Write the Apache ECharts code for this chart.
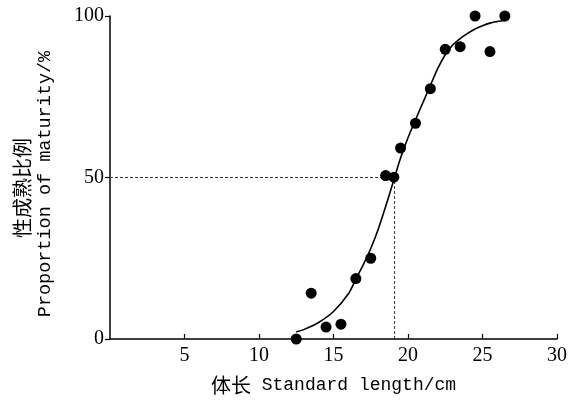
<!DOCTYPE html>
<html><head><meta charset="utf-8">
<script src="https://cdn.jsdelivr.net/npm/echarts@6/dist/echarts.min.js"></script>
<style>html,body{margin:0;padding:0;background:#fff}#c{width:574px;height:402px}</style>
</head><body><div id="c"></div>
<script>
// Observed data points (standard length cm, proportion mature %)
var obsLength = [12.5, 13.5, 14.5, 15.5, 16.5, 17.5, 18.5, 19.05, 19.5, 20.5, 21.5, 22.5, 23.5, 24.5, 25.5, 26.5];
var obsProp   = [0, 14.2, 3.7, 4.6, 18.7, 25, 50.6, 50.1, 59.1, 66.8, 77.5, 89.7, 90.5, 100, 89, 100];
// Fitted curve
var fitLength = [12.5, 13, 14, 15, 16, 16.5, 17, 17.5, 18, 18.5, 19, 19.5, 20, 20.5, 21, 21.5, 22, 22.5, 23, 23.5, 24, 24.5, 25, 25.5, 26, 26.5];
var fitProp   = [2.2, 2.9, 5.1, 8.5, 14, 18.5, 23, 28, 34, 41, 48.5, 56, 62.3, 67.8, 73.2, 78.5, 83.8, 88, 91, 93, 94.6, 96, 97, 97.8, 98.3, 98.6];
// Length at 50% maturity
var L50 = 19.1;
var P50 = 50;
var xTicks = [0, 5, 10, 15, 20, 25, 30];
var yTicks = [0, 50, 100];
var yTitleCn = '性成熟比例';
var yTitleEn = 'Proportion of maturity/%';

function pairs(a, b){ return a.map(function(v,i){ return [v, b[i]]; }); }

var chart = echarts.init(document.getElementById('c'), null, {renderer:'canvas'});
var serif = '"Liberation Serif","DejaVu Serif",serif';
var mono = '"Liberation Mono","DejaVu Sans Mono",monospace';
var cjk = '"Noto Sans CJK SC",sans-serif';
chart.setOption({
  animation:false,
  backgroundColor:'#fff',
  grid:{left:110, right:17, top:16, bottom:63, containLabel:false},
  graphic:[
    {type:'text', x:22, y:188, rotation:Math.PI/2,
      style:{text:yTitleCn, font:'20px ' + cjk, fill:'#000', textAlign:'center', textVerticalAlign:'middle', verticalAlign:'middle'}},
    {type:'text', x:45, y:184, rotation:Math.PI/2,
      style:{text:yTitleEn, font:'18.5px ' + mono, fill:'#000', textAlign:'center', textVerticalAlign:'middle', verticalAlign:'middle'}}
  ],
  xAxis:{
    type:'value', min:xTicks[0], max:xTicks[xTicks.length-1], interval:5,
    name:'{cn|体长} {en|Standard length/cm}', nameLocation:'middle', nameGap:36,
    nameTextStyle:{color:'#000', fontSize:18, fontFamily:mono,
      rich:{cn:{fontSize:20, fontFamily:cjk, color:'#000'}, en:{fontSize:18, fontFamily:mono, color:'#000'}}},
    axisLine:{show:true, lineStyle:{color:'#000', width:1.5}},
    axisTick:{show:true, inside:true, length:5, lineStyle:{color:'#000', width:1.2}},
    axisLabel:{color:'#000', fontSize:20, fontFamily:serif, margin:7, showMinLabel:false},
    splitLine:{show:false}
  },
  yAxis:{
    type:'value', min:yTicks[0], max:yTicks[yTicks.length-1], interval:50,
    axisLine:{show:true, lineStyle:{color:'#000', width:1.5}},
    axisTick:{show:true, inside:false, length:5, lineStyle:{color:'#000', width:1.2}},
    axisLabel:{color:'#000', fontSize:20, fontFamily:serif, margin:6},
    splitLine:{show:false}
  },
  series:[
    {
      type:'line', data:pairs([xTicks[0], L50], [P50, P50]), symbol:'none',
      lineStyle:{color:'#333', width:1, type:[3,2]}, z:1
    },
    {
      type:'line', data:pairs([L50, L50], [yTicks[0], P50]), symbol:'none',
      lineStyle:{color:'#333', width:1, type:[3,2]}, z:1
    },
    {
      type:'line', data:pairs(fitLength, fitProp), symbol:'none', smooth:0.3,
      lineStyle:{color:'#000', width:1.6}, z:2
    },
    {
      type:'scatter', data:pairs(obsLength, obsProp), symbol:'circle', symbolSize:11,
      itemStyle:{color:'#000', opacity:1}, z:3
    }
  ]
});
</script></body></html>
